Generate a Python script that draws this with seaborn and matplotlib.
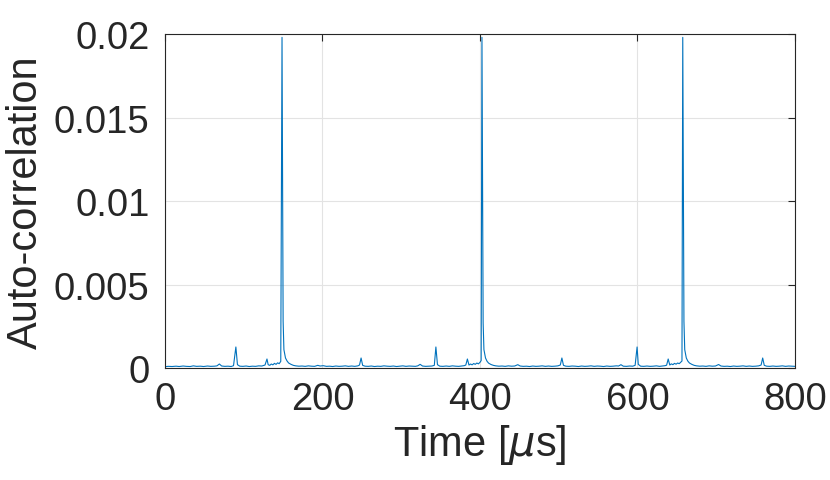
"""Auto-correlation of the received pulse train versus lag time."""

import matplotlib

matplotlib.use("Agg")

import matplotlib.pyplot as plt
import pandas as pd
import seaborn as sns

# lag time [us] and auto-correlation
time_us = [
    0, 4, 9, 14, 18, 23, 27, 32, 36, 40, 45, 49, 54, 58, 63, 66, 69, 72, 76, 80,
    84, 87, 90, 92, 95, 99, 103, 107, 111, 115, 119, 123, 127, 129.5, 131, 133,
    135, 137, 139, 141, 143, 145, 147, 148.6, 150, 151, 153, 155, 157, 160, 163,
    166, 170, 174, 178, 182, 186, 190, 194, 197, 201, 205, 209, 213, 217, 221,
    225, 229, 233, 237, 241, 245, 247, 249, 251, 254,
    258, 262, 266, 270, 274, 278, 282, 286, 290, 294, 298, 302, 306, 310, 314,
    318, 321, 324, 327, 331, 335, 339, 342, 344, 346, 349, 353, 357, 361, 365,
    369, 373, 377, 380, 382, 384, 386, 388, 390, 392, 394, 396, 398, 400, 401.5,
    402.5, 404, 405, 407, 409, 411, 414, 417, 420, 424, 428, 432, 436, 440, 444,
    448, 451, 455, 459, 463, 467, 471, 475, 479, 483, 487, 491, 495, 499, 502,
    504, 506, 509,
    513, 517, 521, 525, 529, 533, 537, 541, 545, 549, 553, 557, 561, 565, 569,
    573, 576, 579, 582, 586, 590, 594, 597, 599.5, 601, 604, 608, 612, 616, 620,
    624, 628, 632, 635, 637, 639, 641, 643, 645, 647, 649, 651, 653, 655, 656.5,
    657.5, 659, 660, 662, 664, 666, 669, 672, 675, 679, 683, 687, 691, 695, 699,
    703, 706, 710, 714, 718, 722, 726, 730, 734, 738, 742, 746, 750, 754, 757,
    759, 761, 764, 768, 772, 776, 780, 784, 788, 792, 796, 800,
]
autocorr = [
    0.00008, 0.00010, 0.00009, 0.00011, 0.00009, 0.00012, 0.00010, 0.00009,
    0.00013, 0.00010, 0.00011, 0.00009, 0.00012, 0.00010, 0.00011, 0.00013,
    0.00024, 0.00012, 0.00010, 0.00011, 0.00009, 0.00014, 0.00126, 0.00020,
    0.00011, 0.00010, 0.00012, 0.00009, 0.00011, 0.00010, 0.00013, 0.00012,
    0.00018, 0.00054, 0.00020, 0.00016, 0.00024, 0.00019, 0.00028, 0.00022,
    0.00031, 0.00026, 0.00040, 0.0198, 0.0028, 0.0011, 0.0006, 0.00042,
    0.00030, 0.00022, 0.00016, 0.00013, 0.00011, 0.00012, 0.00010, 0.00013,
    0.00011, 0.00010, 0.00016, 0.00012, 0.00014, 0.00010, 0.00011, 0.00009,
    0.00012, 0.00010, 0.00011, 0.00013, 0.00010, 0.00012, 0.00010, 0.00013,
    0.00018, 0.00060, 0.00016, 0.00011,
    0.00010, 0.00012, 0.00009, 0.00011, 0.00010, 0.00013, 0.00011, 0.00010,
    0.00012, 0.00009, 0.00011, 0.00013, 0.00010, 0.00012, 0.00011, 0.00010,
    0.00013, 0.00022, 0.00012, 0.00010, 0.00011, 0.00012, 0.00016, 0.00126,
    0.00020, 0.00011, 0.00010, 0.00012, 0.00010, 0.00013, 0.00011, 0.00010,
    0.00012, 0.00014, 0.00018, 0.00054, 0.00018, 0.00024, 0.00019, 0.00027,
    0.00022, 0.00030, 0.00025, 0.00034, 0.00045, 0.0198, 0.0027, 0.0011,
    0.0006, 0.00040, 0.00029, 0.00021, 0.00016, 0.00013, 0.00011, 0.00012,
    0.00010, 0.00013, 0.00011, 0.00012, 0.00020, 0.00012, 0.00010, 0.00011,
    0.00009, 0.00012, 0.00010, 0.00011, 0.00013, 0.00010, 0.00012, 0.00010,
    0.00011, 0.00013, 0.00018, 0.00060, 0.00016, 0.00011,
    0.00010, 0.00012, 0.00011, 0.00009, 0.00012, 0.00010, 0.00011, 0.00013,
    0.00010, 0.00012, 0.00011, 0.00009, 0.00012, 0.00010, 0.00011, 0.00013,
    0.00012, 0.00020, 0.00011, 0.00010, 0.00012, 0.00011, 0.00016, 0.00126,
    0.00022, 0.00011, 0.00010, 0.00012, 0.00010, 0.00011, 0.00013, 0.00010,
    0.00012, 0.00014, 0.00017, 0.00054, 0.00018, 0.00025, 0.00020, 0.00028,
    0.00023, 0.00030, 0.00026, 0.00035, 0.00042, 0.0198, 0.0028, 0.0011,
    0.0006, 0.00041, 0.00030, 0.00022, 0.00016, 0.00013, 0.00011, 0.00012,
    0.00010, 0.00013, 0.00011, 0.00012, 0.00021, 0.00012, 0.00010, 0.00011,
    0.00009, 0.00012, 0.00010, 0.00011, 0.00013, 0.00010, 0.00012, 0.00010,
    0.00011, 0.00013, 0.00018, 0.00060, 0.00016, 0.00011, 0.00010, 0.00012,
    0.00010, 0.00011, 0.00013, 0.00010, 0.00012, 0.00011, 0.00010,
]

x_ticks = [0, 200, 400, 600, 800]
y_ticks = [0, 0.005, 0.01, 0.015, 0.02]
y_tick_labels = ["0", "0.005", "0.01", "0.015", "0.02"]


def main() -> None:
    sns.set_theme(style="whitegrid")
    plt.rcParams["font.family"] = ["Liberation Sans", "DejaVu Sans"]
    plt.rcParams["mathtext.fontset"] = "dejavusans"

    df = pd.DataFrame({"time": time_us, "acorr": autocorr})

    fig = plt.figure(figsize=(8.3, 4.81), dpi=100)
    ax = fig.add_axes([0.1988, 0.2328, 0.759, 0.6944])
    sns.lineplot(data=df, x="time", y="acorr", ax=ax, color="#0072BD",
                 linewidth=0.8, sort=False, estimator=None)

    ax.set_xlim(0, 800)
    ax.set_ylim(0, 0.02)
    ax.set_xticks(x_ticks)
    ax.set_yticks(y_ticks)
    ax.set_yticklabels(y_tick_labels)
    ax.set_xlabel(r"Time [$\mu$s]", fontsize=30, color="#262626", labelpad=4)
    ax.set_ylabel("Auto-correlation", fontsize=30, color="#262626", labelpad=6)

    ax.set_facecolor("white")
    ax.grid(True, color="#e3e3e3", linewidth=0.8)
    for spine in ax.spines.values():
        spine.set_visible(True)
        spine.set_color("#262626")
        spine.set_linewidth(0.8)
    ax.tick_params(axis="both", direction="in", length=5, width=0.8,
                   colors="#262626", labelsize=27.5, top=True, right=True)
    ax.tick_params(axis="x", pad=9)
    ax.tick_params(axis="y", pad=11)

    fig.savefig("out.png", dpi=100, facecolor="white")
    plt.close(fig)


if __name__ == "__main__":
    main()
